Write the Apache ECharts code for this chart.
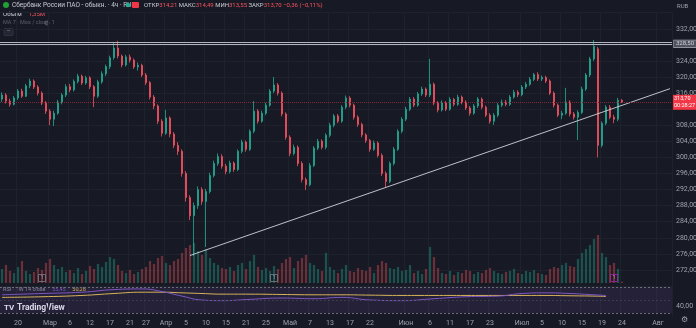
<!DOCTYPE html>
<html><head><meta charset="utf-8">
<script src="https://cdn.jsdelivr.net/npm/echarts@6/dist/echarts.min.js"></script>
<style>html,body{margin:0;padding:0;background:#171a24;}#c{width:696px;height:328px;}</style>
</head><body><div id="c"></div>
<script>
// ---- data ----
const slotCount = 168;
const tickIdx = [4, 12, 17, 22, 27, 32, 36, 41, 46, 51, 56, 61, 66, 72, 77, 82, 87, 92, 101, 107, 112, 117, 122, 130, 135, 140, 145, 150, 155, 164];
const tickText = ['20', 'Мар', '6', '12', '17', '21', '27', 'Апр', '5', '10', '15', '21', '25', 'Май', '7', '13', '17', '22', 'Июн', '6', '11', '17', '23', 'Июл', '5', '10', '15', '19', '24', 'Авг'];
// [open, close, low, high]
const ohlc = [
[314.5,315.5,313.8,316.2],[315.5,314.0,313.4,316.0],[314.0,313.2,312.6,314.6],[313.2,314.8,312.9,315.3],[314.8,316.5,314.3,317.0],
[316.5,315.2,314.8,317.1],[315.2,317.8,315.0,318.3],[317.8,319.0,317.2,319.6],[319.0,317.5,317.0,319.4],[317.5,316.0,315.4,318.0],
[316.0,313.5,313.0,316.4],[313.5,311.5,310.8,314.0],[311.5,309.5,308.0,312.0],[309.5,311.0,307.8,311.6],[311.0,313.8,310.6,314.3],
[313.8,315.5,313.2,316.0],[315.5,317.6,315.0,318.2],[317.6,316.8,316.2,318.3],[316.8,318.9,316.4,319.4],[318.9,320.2,318.4,320.8],
[320.2,318.5,318.0,320.6],[318.5,319.8,318.1,320.3],[319.8,317.6,317.0,320.2],[317.6,315.2,312.5,318.0],[315.2,318.8,314.8,319.3],
[318.8,320.8,318.3,321.4],[320.8,322.6,320.2,323.1],[322.6,324.8,322.0,325.3],[324.8,327.2,324.3,328.5],[327.2,325.2,324.6,329.0],
[325.2,323.0,322.4,325.6],[323.0,325.0,322.6,325.5],[325.0,324.2,323.6,325.6],[324.2,322.5,322.0,324.6],[322.5,322.9,321.6,323.6],
[322.9,320.5,320.0,323.3],[320.5,318.6,318.0,321.0],[318.6,315.0,314.4,319.0],[315.0,312.8,312.0,315.5],[312.8,309.0,308.3,313.2],
[309.0,306.0,305.2,309.5],[306.0,309.8,305.6,311.8],[309.8,305.8,305.0,310.2],[305.8,303.0,302.3,306.3],[303.0,301.5,300.6,303.8],
[301.5,296.0,295.2,302.0],[296.0,290.0,289.0,296.6],[290.0,285.5,284.4,290.6],[285.5,288.0,275.5,288.8],[288.0,292.0,287.2,292.8],
[292.0,289.0,288.2,292.6],[289.0,291.5,277.7,292.2],[291.5,295.5,291.0,296.2],[295.5,298.5,295.0,299.2],[298.5,300.2,297.9,301.0],
[300.2,297.8,297.2,300.8],[297.8,296.5,295.8,298.4],[296.5,298.6,296.0,299.2],[298.6,297.0,296.4,299.0],[297.0,301.5,296.6,302.0],
[301.5,303.8,301.0,304.4],[303.8,302.0,301.4,304.2],[302.0,306.5,301.6,307.0],[306.5,311.5,306.0,314.0],[311.5,309.0,308.4,312.0],
[309.0,311.0,308.6,311.6],[311.0,313.0,310.5,313.6],[313.0,316.5,312.6,317.0],[316.5,318.0,316.0,320.0],[318.0,316.0,315.4,318.5],
[316.0,310.8,310.2,316.4],[310.8,305.0,304.4,311.2],[305.0,301.0,300.3,305.5],[301.0,302.5,300.5,303.2],[302.5,298.5,297.8,303.0],
[298.5,294.5,293.8,299.0],[294.5,293.2,291.9,295.0],[293.2,298.0,292.8,298.6],[298.0,302.3,297.6,302.8],[302.3,304.0,301.8,304.6],
[304.0,302.5,302.0,304.5],[302.5,305.5,302.0,306.0],[305.5,308.0,305.0,308.6],[308.0,310.3,307.5,310.8],[310.3,309.0,308.5,310.8],
[309.0,312.5,308.6,313.0],[312.5,314.8,312.0,315.4],[314.8,313.0,312.4,315.2],[313.0,310.0,309.4,313.4],[310.0,308.2,307.6,310.5],
[308.2,305.6,305.0,308.6],[305.6,304.2,303.6,306.0],[304.2,302.0,301.4,304.6],[302.0,303.6,301.6,304.2],[303.6,300.5,300.0,304.0],
[300.5,296.0,295.4,301.0],[296.0,294.0,292.5,296.5],[294.0,298.5,293.6,299.0],[298.5,302.0,298.0,302.6],[302.0,306.5,301.6,307.0],
[306.5,309.5,306.0,310.0],[309.5,312.0,309.0,312.6],[312.0,314.5,311.5,315.0],[314.5,313.0,312.5,315.0],[313.0,315.8,312.6,316.3],
[315.8,317.0,315.3,317.6],[317.0,315.5,315.0,317.4],[315.5,318.2,315.0,324.5],[318.2,313.5,313.0,318.6],[313.5,311.8,311.2,314.0],
[311.8,313.6,311.4,314.2],[313.6,312.0,311.5,314.0],[312.0,314.4,311.6,315.0],[314.4,313.2,312.7,314.8],[313.2,315.0,312.8,315.6],
[315.0,313.8,313.2,315.4],[313.8,312.3,311.8,314.2],[312.3,311.0,310.4,312.8],[311.0,312.8,310.6,313.3],[312.8,314.5,312.3,315.0],
[314.5,312.5,312.0,314.9],[312.5,310.5,310.0,312.9],[310.5,309.0,308.4,311.0],[309.0,310.5,308.1,311.0],[310.5,313.0,310.0,313.5],
[313.0,313.8,312.5,314.4],[313.8,313.2,312.7,314.3],[313.2,315.0,312.8,315.5],[315.0,316.2,314.6,316.8],[316.2,315.6,315.0,316.7],
[315.6,317.5,315.2,318.0],[317.5,318.2,317.0,318.8],[318.2,319.4,317.8,320.0],[319.4,320.6,319.0,321.0],[320.6,319.5,319.0,321.2],
[319.5,319.9,319.0,320.4],[319.9,319.0,318.5,320.3],[319.0,316.0,315.5,319.4],[316.0,313.0,312.4,316.4],[313.0,310.5,310.0,313.4],
[310.5,311.0,309.5,311.6],[311.0,313.8,310.6,317.3],[313.8,310.8,310.2,314.2],[310.8,310.0,309.4,311.3],[310.0,311.2,304.3,311.7],
[311.2,317.0,310.8,317.6],[317.0,320.5,316.5,321.0],[320.5,324.5,320.0,325.0],[324.5,327.6,324.0,329.2],[327.0,303.0,300.0,327.5],
[303.0,308.5,302.5,309.0],[308.5,312.5,308.0,313.0],[312.5,310.0,309.5,313.0],[310.0,309.5,308.5,310.6],[309.5,314.2,309.0,314.8],
[314.21,313.70,313.55,314.49]
];
// volume, millions of shares
const volumes = [
14,18,12,10,16,22,12,9,11,15,13,20,24,
18,14,16,11,13,10,15,9,12,17,14,19,16,21,26,24,18,
12,10,13,9,11,14,16,22,19,25,27,20,18,22,24,30,35,38,40,32,
28,34,25,20,18,15,14,16,12,18,20,14,22,28,16,13,15,12,17,14,
20,24,26,15,22,25,28,20,18,14,12,30,16,13,10,14,18,12,11,15,
13,12,16,10,18,22,20,15,14,16,12,13,18,10,12,9,14,36,26,15,
10,9,12,8,11,10,13,12,9,11,10,13,15,12,10,9,11,12,14,10,
9,12,11,13,10,9,8,14,16,15,18,20,17,16,24,30,34,38,44,48,
30,26,18,20,14,1.35
];
const levelTop = 328.5;
const trendIdx = [47, 167];
const trendVal = [275.6, 317.1];
const eventIdx = [10, 68, 153];
const eventColor = ['#787b86', '#787b86', '#9c27b0'];
const rsiIdx = [0, 10, 20, 28, 35, 40, 45, 50, 55, 62, 70, 78, 85, 92, 100, 108, 116, 124, 130, 136, 142, 148, 151];
const rsiVal = [58, 60, 62, 66, 67, 63, 56, 50, 49, 51, 53, 52, 54, 50, 49, 52, 55, 56, 60, 61, 60, 58, 57];
const rsiMaVal = [54, 55, 57, 60, 62, 62, 61, 60, 59, 59, 58.5, 58, 58, 57.5, 57, 57, 57, 57, 57, 57, 56.5, 56, 55.5];
const rsiLast = 55.45, rsiMaLast = 50.28;

// ---- chart ----
const UP = '#22ab94', DOWN = '#f7525f';
const FONT = 'Roboto, "Liberation Sans", sans-serif';
const slots = Array.from({length: slotCount}, (_, i) => String(i));
const tickMap = {};
tickIdx.forEach((k, j) => tickMap[k] = tickText[j]);
const lastC = ohlc[ohlc.length - 1];
const fmt = v => v.toFixed(2).replace('.', ',');
const isTick = (i) => tickMap[i] !== undefined;

const xBase = (gi, showLabel) => ({
  type: 'category', gridIndex: gi, data: slots, boundaryGap: true,
  axisLine: {show: false}, axisTick: {show: false},
  axisLabel: {show: showLabel, interval: (i) => isTick(i), formatter: (v, i) => tickMap[i] || '',
    color: '#9ea1aa', fontSize: 7, fontFamily: FONT, margin: 3},
  splitLine: {show: gi !== 1, interval: (i) => isTick(i), lineStyle: {color: '#1e222d', width: 1}}
});

const option = {
  backgroundColor: '#171a24',
  animation: false,
  grid: [
    {left: 0, right: 24, top: 12.68, height: 273.36, containLabel: false, outerBoundsMode: 'none'},
    {left: 0, right: 24, top: 208, height: 75, containLabel: false, outerBoundsMode: 'none'},
    {left: 0, right: 24, top: 283.75, height: 32.5, containLabel: false, outerBoundsMode: 'none'}
  ],
  xAxis: [xBase(0, false), xBase(1, false), xBase(2, true)],
  yAxis: [
    {type: 'value', gridIndex: 0, position: 'right', min: 268, max: 336, interval: 4, scale: true,
      axisLine: {show: false}, axisTick: {show: false},
      axisLabel: {color: '#9ea1aa', fontSize: 7, fontFamily: FONT, margin: 4,
        formatter: v => (v >= 272 && v <= 332 && v !== 328 && v !== 312) ? fmt(v) : ''},
      splitLine: {lineStyle: {color: '#1e222d'}}},
    {type: 'value', gridIndex: 1, min: 0, max: 75, show: false, splitLine: {show: false}},
    {type: 'value', gridIndex: 2, position: 'right', min: 25, max: 75, interval: 5,
      axisLine: {show: false}, axisTick: {show: false}, splitLine: {show: false},
      axisLabel: {color: '#9ea1aa', fontSize: 7, fontFamily: FONT, margin: 4,
        formatter: v => v === 40 ? fmt(v) : ''}}
  ],
  series: [
    {type: 'bar', xAxisIndex: 1, yAxisIndex: 1, barWidth: 2.2,
      data: volumes.map((v, i) => ({value: v, itemStyle: {color: ohlc[i][1] >= ohlc[i][0] ? 'rgba(34,171,148,0.38)' : 'rgba(247,82,95,0.38)'}})),
      markLine: {silent: true, symbol: 'none', data: [{yAxis: volumes[volumes.length - 1]}],
        lineStyle: {opacity: 0},
        label: {position: 'end', distance: 2, formatter: () => '1,35M', color: '#fff', backgroundColor: '#f7525f',
          fontSize: 6, fontFamily: FONT, padding: [1, 2, 1, 2], borderRadius: 1}}},
    {type: 'scatter', xAxisIndex: 1, yAxisIndex: 1, symbol: 'rect', symbolSize: 7,
      data: eventIdx.map((k, j) => ({value: [k, 5], itemStyle: {color: 'rgba(0,0,0,0)', borderColor: eventColor[j], borderWidth: 1}})),
      label: {show: true, formatter: '1', color: '#b2b5be', fontSize: 5.5, fontFamily: FONT, position: 'inside'}},
    {type: 'candlestick', xAxisIndex: 0, yAxisIndex: 0, barWidth: 2.4, data: ohlc,
      itemStyle: {color: UP, color0: DOWN, borderColor: UP, borderColor0: DOWN, borderWidth: 0.8},
      markLine: {silent: true, symbol: 'none', precision: 2, data: [
        {yAxis: levelTop + 0.25, lineStyle: {color: '#b2b5be', width: 1, type: 'solid'}, label: {show: false}},
        {yAxis: levelTop - 0.25, lineStyle: {color: '#b2b5be', width: 1, type: 'solid'},
          label: {show: true, position: 'end', distance: 2, formatter: () => fmt(levelTop), color: '#d1d4dc',
            backgroundColor: '#50535e', borderColor: '#b2b5be', borderWidth: 0.6, fontSize: 6, fontFamily: FONT, padding: [1, 2, 0, 2]}},
        {yAxis: lastC[1], lineStyle: {color: '#7a2a35', width: 1, type: 'dotted'},
          label: {show: true, position: 'end', distance: 1, formatter: () => fmt(lastC[1]) + '\n00:28:27', color: '#fff',
            backgroundColor: '#f23645', fontSize: 5.5, lineHeight: 6.5, fontFamily: FONT, padding: [1, 1, 1, 1]}}
      ]}},
    {type: 'line', xAxisIndex: 0, yAxisIndex: 0, symbol: 'none', data: trendIdx.map((k, j) => [k, trendVal[j]]),
      lineStyle: {color: '#d1d4dc', width: 0.9}, silent: true},
    {type: 'line', xAxisIndex: 2, yAxisIndex: 2, symbol: 'none', smooth: true,
      data: rsiIdx.map((k, j) => [k, rsiMaVal[j]]), lineStyle: {color: '#d7b45a', width: 1},
      markLine: {silent: true, symbol: 'none', data: [{yAxis: rsiMaLast}], lineStyle: {opacity: 0},
        label: {position: 'end', distance: 2, offset: [0, -10], formatter: () => fmt(rsiMaLast), color: '#131722',
          backgroundColor: '#f5d547', fontSize: 6, fontFamily: FONT, padding: [1, 2, 1, 2]}}},
    {type: 'line', xAxisIndex: 2, yAxisIndex: 2, symbol: 'none', smooth: true,
      data: rsiIdx.map((k, j) => [k, rsiVal[j]]), lineStyle: {color: '#7e57c2', width: 1},
      markArea: {silent: true, itemStyle: {color: 'rgba(126,87,194,0.13)'}, data: [[{yAxis: 30}, {yAxis: 70}]]},
      markLine: {silent: true, symbol: 'none', data: [
        {yAxis: 70, lineStyle: {color: '#6a6d78', type: [2, 2], width: 1}, label: {show: false}},
        {yAxis: 50, lineStyle: {color: '#3a3d48', type: [2, 2], width: 1}, label: {show: false}},
        {yAxis: 30, lineStyle: {color: '#6a6d78', type: [2, 2], width: 1}, label: {show: false}},
        {yAxis: rsiLast, lineStyle: {opacity: 0},
          label: {show: true, position: 'end', distance: 2, formatter: () => fmt(rsiLast), color: '#fff',
            backgroundColor: '#7e57c2', fontSize: 6, fontFamily: FONT, padding: [1, 2, 1, 2]}}
      ]}}
  ],
  graphic: [
    {type: 'circle', shape: {cx: 6, cy: 5, r: 3}, style: {fill: '#21a038'}},
    {type: 'text', x: 12, y: 5, style: {text: 'Сбербанк России ПАО - обыкн. · 4ч · RUS', fill: '#c9ccd4', fontSize: 6.5, fontFamily: FONT, verticalAlign: 'middle'}},
    {type: 'circle', shape: {cx: 128, cy: 5, r: 2.2}, style: {fill: '#22ab94'}},
    {type: 'rect', shape: {x: 132, y: 2, width: 7, height: 6, r: 1}, style: {fill: '#f23645'}},
    {type: 'text', x: 144, y: 5, style: {
      text: '{l|ОТКР}{r|' + fmt(lastC[0]) + '} {l|МАКС}{r|' + fmt(lastC[3]) + '} {l|МИН}{r|' + fmt(lastC[2]) + '} {l|ЗАКР}{r|' + fmt(lastC[1]) + ' −0,36 (−0,11%)}',
      verticalAlign: 'middle', fontSize: 6, fontFamily: FONT,
      rich: {l: {fill: '#c9ccd4', fontSize: 6, fontFamily: FONT}, r: {fill: '#f7525f', fontSize: 6, fontFamily: FONT}}}},
    {type: 'text', x: 3, y: 14, style: {text: '{l|Объём}  {r|1,35M}', verticalAlign: 'middle',
      rich: {l: {fill: '#c9ccd4', fontSize: 6, fontFamily: FONT}, r: {fill: '#f7525f', fontSize: 6, fontFamily: FONT}}}},
    {type: 'text', x: 3, y: 23, style: {text: 'MA 7 · Mos / close  1', fill: '#5d606b', fontSize: 5.5, fontFamily: FONT, verticalAlign: 'middle'}},
    {type: 'circle', shape: {cx: 47, cy: 23, r: 2}, style: {fill: 'none', stroke: '#6a6d78', lineWidth: 0.8}},
    {type: 'rect', shape: {x: 4, y: 28.5, width: 9, height: 7, r: 1}, style: {fill: '#232733', stroke: '#2f3340'}},
    {type: 'text', x: 8.5, y: 32.5, style: {text: '⌃', fill: '#9ea1aa', fontSize: 6, align: 'center', verticalAlign: 'middle'}},
    {type: 'text', x: 677, y: 6, style: {text: 'RUB', fill: '#9ea1aa', fontSize: 6, fontFamily: FONT, verticalAlign: 'middle'}},
    {type: 'text', x: 3, y: 290, style: {
      text: '{l|RSI · TW 14 close}  {p|55,45}  {y|50,28}', verticalAlign: 'middle',
      rich: {l: {fill: '#8a8d96', fontSize: 5.5, fontFamily: FONT}, p: {fill: '#7e57c2', fontSize: 5.5, fontFamily: FONT}, y: {fill: '#e0c04a', fontSize: 5.5, fontFamily: FONT}}}},
    {type: 'text', x: 4, y: 308, style: {text: 'TV', fill: '#e8e9ec', fontSize: 8, fontWeight: 'bold', fontFamily: FONT, verticalAlign: 'middle'}},
    {type: 'text', x: 17, y: 308, style: {text: 'TradingView', fill: '#e8e9ec', fontSize: 8.5, fontWeight: 'bold', fontFamily: FONT, verticalAlign: 'middle'}},
    {type: 'text', x: 684, y: 320, style: {text: '⚙', fill: '#9ea1aa', fontSize: 8, align: 'center', verticalAlign: 'middle'}}
  ]
};
const chart = echarts.init(document.getElementById('c'), null, {renderer: 'canvas'});
chart.setOption(option);
</script>
</body></html>
